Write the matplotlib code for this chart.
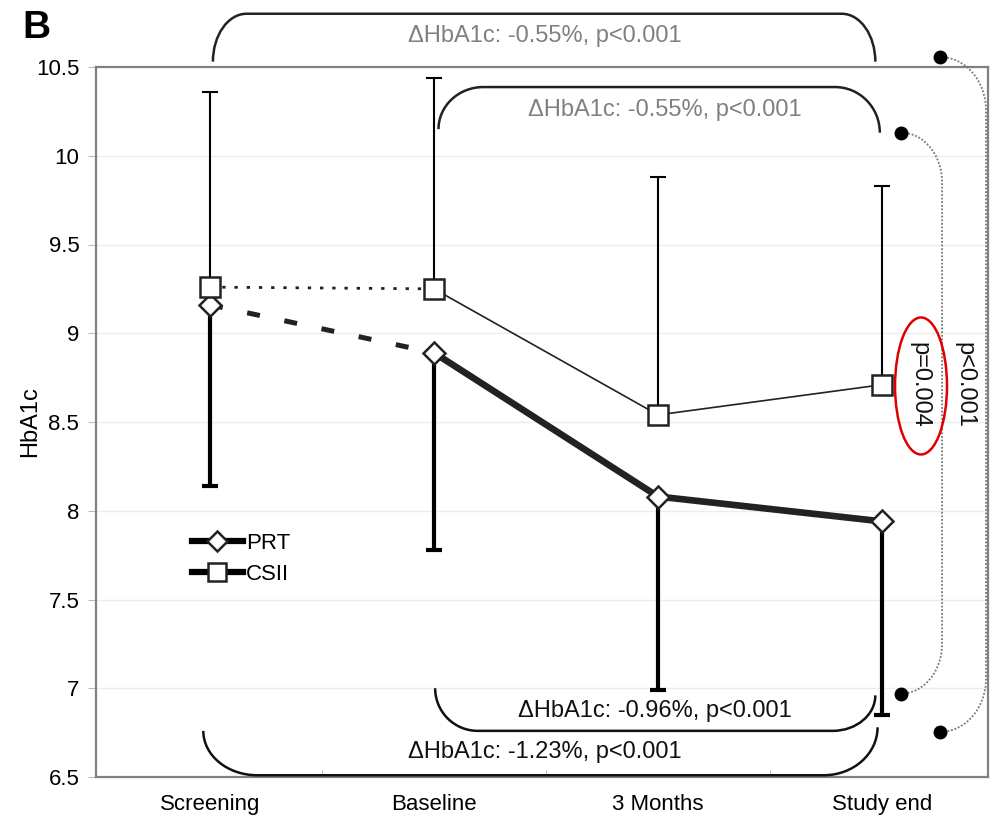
import numpy as np
import matplotlib
matplotlib.use("Agg")
import matplotlib.pyplot as plt
from matplotlib.path import Path
from matplotlib.patches import PathPatch, Ellipse
from matplotlib.lines import Line2D

plt.rcParams['font.family'] = ['Liberation Sans', 'DejaVu Sans']

# --- data ---
categories = ["Screening", "Baseline", "3 Months", "Study end"]
prt_mean = [9.16, 8.89, 8.08, 7.94]
prt_lower = [8.14, 7.78, 6.99, 6.85]
csii_mean = [9.26, 9.25, 8.54, 8.71]
csii_upper = [10.36, 10.44, 9.88, 9.83]
y_ticks = [6.5, 7, 7.5, 8, 8.5, 9, 9.5, 10, 10.5]
y_tick_labels = ["6.5", "7", "7.5", "8", "8.5", "9", "9.5", "10", "10.5"]
top_labels = ["ΔHbA1c: -0.55%, p<0.001", "ΔHbA1c: -0.55%, p<0.001"]
bottom_labels = ["ΔHbA1c: -0.96%, p<0.001", "ΔHbA1c: -1.23%, p<0.001"]
side_labels = ["p=0.004", "p<0.001"]

x = np.arange(len(categories))

fig = plt.figure(figsize=(9.92, 8.18), dpi=100)
ax = fig.add_axes([96 / 992, 41 / 818, 892 / 992, 710 / 818])
ax.set_xlim(-0.509, 3.473)
ax.set_ylim(6.5, 10.5)

# grid + frame
ax.set_yticks(y_ticks)
ax.set_yticklabels(y_tick_labels, fontsize=16)
ax.yaxis.grid(True, color='#ececec', lw=1)
ax.set_axisbelow(True)
for s in ax.spines.values():
    s.set_color('#808080')
    s.set_linewidth(1.6)
ax.set_xticks(x)
ax.set_xticklabels(categories, fontsize=16)
ax.tick_params(axis='x', length=0, pad=12)
ax.set_xticks([0.5, 1.5, 2.5], minor=True)
ax.tick_params(axis='x', which='minor', direction='in', length=5, color='#bbbbbb')
ax.tick_params(axis='y', length=6, color='#bbbbbb', pad=6)
ax.set_ylabel("HbA1c", fontsize=17, labelpad=-4)

# --- PRT (thick) ---
pm = np.array(prt_mean)
ax.errorbar(x, pm, yerr=[pm - np.array(prt_lower), np.zeros(4)], fmt='none',
            ecolor='black', elinewidth=3, capsize=5.5, capthick=3, zorder=2)
ax.plot(x[:2], pm[:2], color='#222222', lw=3.6, dashes=(2.6, 5), dash_capstyle='butt', zorder=3)
ax.plot(x[1:], pm[1:], color='#222222', lw=4.8, zorder=3, solid_capstyle='butt')
ax.plot(x, pm, ls='none', marker='D', ms=11, mfc='white', mec='#222222', mew=1.8, zorder=4)

# --- CSII (thin) ---
cm = np.array(csii_mean)
ax.errorbar(x, cm, yerr=[np.zeros(4), np.array(csii_upper) - cm], fmt='none',
            ecolor='black', elinewidth=1.5, capsize=5.5, capthick=1.5, zorder=2)
ax.plot(x[:2], cm[:2], color='#222222', lw=2, dashes=(1.2, 3.2), zorder=3)
ax.plot(x[1:], cm[1:], color='#222222', lw=1.2, zorder=3)
ax.plot(x, cm, ls='none', marker='s', ms=15, mfc='white', mec='#222222', mew=1.8, zorder=5)

# legend
handles = [Line2D([], [], color='black', lw=4.5, marker='D', ms=10, mfc='white', mec='#222222', mew=1.8),
           Line2D([], [], color='black', lw=4.5, marker='s', ms=13, mfc='white', mec='#222222', mew=1.8)]
ax.legend(handles, ["PRT", "CSII"], loc='upper left', bbox_to_anchor=(0.095, 0.36), frameon=False,
          fontsize=16, handlelength=2.3, handletextpad=0.15, labelspacing=0.45, borderpad=0)

K = 0.552


def bracket(x0, y0, x1, y1, yh, rx, color, lw=1.8):
    verts = [(x0, y0),
             (x0, y0 + K * (yh - y0)), (x0 + rx * (1 - K), yh), (x0 + rx, yh),
             (x1 - rx, yh),
             (x1 - rx * (1 - K), yh), (x1, y1 + K * (yh - y1)), (x1, y1)]
    codes = [Path.MOVETO, Path.CURVE4, Path.CURVE4, Path.CURVE4, Path.LINETO,
             Path.CURVE4, Path.CURVE4, Path.CURVE4]
    ax.add_patch(PathPatch(Path(verts, codes), fc='none', ec=color, lw=lw, clip_on=False, zorder=6))


def connector(xd, yt, yb, xv, ry):
    verts = [(xd, yt),
             (xd + K * (xv - xd), yt), (xv, yt - ry * (1 - K)), (xv, yt - ry),
             (xv, yb + ry),
             (xv, yb + ry * (1 - K)), (xd + K * (xv - xd), yb), (xd, yb)]
    codes = [Path.MOVETO, Path.CURVE4, Path.CURVE4, Path.CURVE4, Path.LINETO,
             Path.CURVE4, Path.CURVE4, Path.CURVE4]
    ax.add_patch(PathPatch(Path(verts, codes), fc='none', ec='#777777', lw=1.3,
                           ls=(0, (1, 1)), clip_on=False, zorder=6))
    ax.plot([xd, xd], [yt, yb], ls='none', marker='o', ms=9, color='black', clip_on=False, zorder=7)


# brackets with delta labels
bracket(0.013, 10.53, 2.97, 10.53, 10.80, 0.15, '#222222')
ax.text(1.496, 10.675, top_labels[0], color='#808080', fontsize=17, ha='center', va='center')
bracket(1.02, 10.15, 2.99, 10.13, 10.387, 0.2, '#222222')
ax.text(2.03, 10.258, top_labels[1], color='#808080', fontsize=17, ha='center', va='center')
bracket(1.005, 7.0, 2.97, 6.96, 6.76, 0.19, '#111111')
ax.text(1.987, 6.872, bottom_labels[0], color='#111111', fontsize=17, ha='center', va='center')
bracket(-0.03, 6.76, 2.98, 6.78, 6.51, 0.24, '#111111')
ax.text(1.496, 6.64, bottom_labels[1], color='#111111', fontsize=17, ha='center', va='center')

# side p-values
connector(3.085, 10.13, 6.97, 3.268, 0.28)
connector(3.259, 10.556, 6.754, 3.464, 0.3)
ax.text(3.165, 8.708, side_labels[0], rotation=-90, fontsize=17, ha='center', va='center', color='#111111')
ax.text(3.37, 8.708, side_labels[1], rotation=-90, fontsize=17, ha='center', va='center', color='#111111')
ax.add_patch(Ellipse((3.174, 8.703), 0.232, 0.772, fc='none', ec='#e00000', lw=1.8, zorder=7))

fig.text(22 / 992, 1 - 28 / 818, "B", fontsize=28, fontweight='bold', va='center', ha='left')

fig.savefig("out.png", dpi=100)
